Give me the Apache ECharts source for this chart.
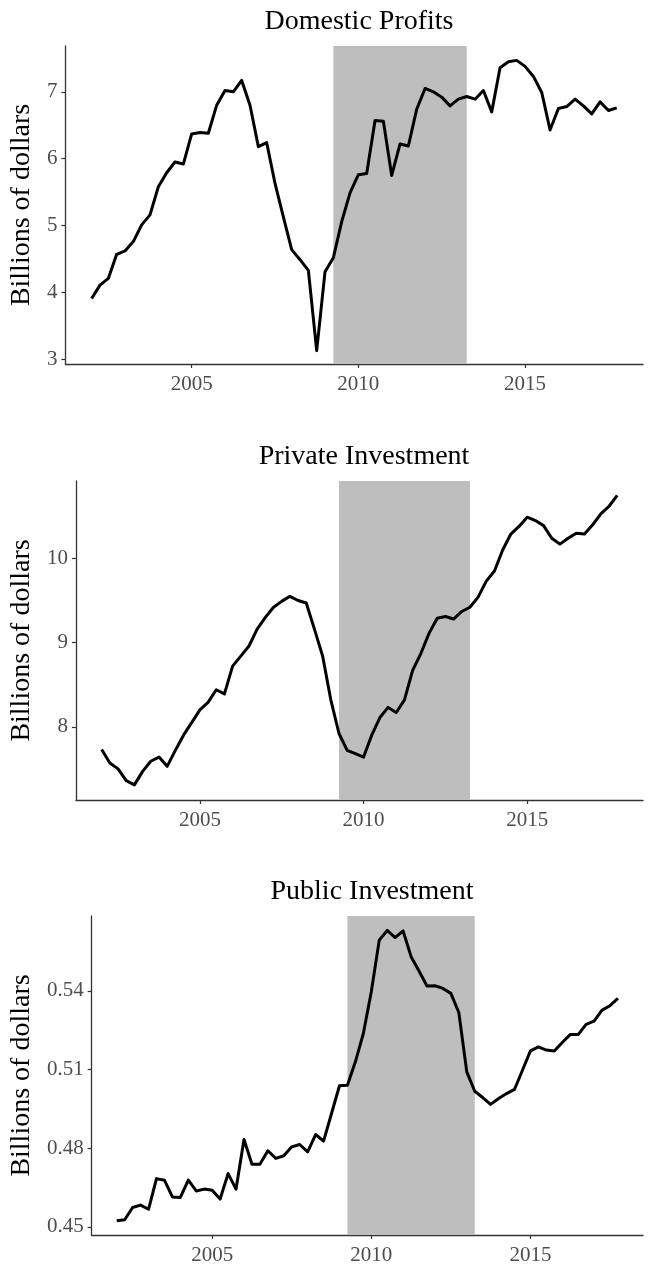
<!DOCTYPE html>
<html>
<head>
<meta charset="utf-8">
<script src="https://cdn.jsdelivr.net/npm/echarts@6/dist/echarts.min.js"></script>
<style>
html,body{margin:0;padding:0;background:#fff;}
#chart{width:649px;height:1269px;}
</style>
</head>
<body>
<div id="chart"></div>
<script>
// Quarterly observations, 2002 Q1 .. 2017 Q4 (plotted at year + quarter/4)
const startYear = 2002;
const panelTitles = ['Domestic Profits', 'Private Investment', 'Public Investment'];
const yAxisTitle = 'Billions of dollars';
const xTicks = [2005, 2010, 2015];
const shadeRange = [2009.25, 2013.25];

const domesticProfits = [
  3.91, 4.11, 4.21, 4.57, 4.62, 4.76, 5.01, 5.16,
  5.58, 5.79, 5.95, 5.92, 6.37, 6.39, 6.38, 6.80,
  7.02, 7.00, 7.17, 6.80, 6.18, 6.24, 5.63, 5.13,
  4.64, 4.49, 4.33, 3.13, 4.31, 4.52, 5.06, 5.49,
  5.76, 5.78, 6.57, 6.56, 5.75, 6.22, 6.19, 6.74,
  7.05, 7.00, 6.92, 6.79, 6.89, 6.93, 6.89, 7.02,
  6.70, 7.36, 7.45, 7.47, 7.38, 7.23, 6.99, 6.43,
  6.75, 6.78, 6.89, 6.79, 6.67, 6.85, 6.72, 6.76
];
const privateInvestment = [
  7.73, 7.57, 7.50, 7.36, 7.31, 7.47, 7.59, 7.64,
  7.53, 7.72, 7.90, 8.05, 8.20, 8.29, 8.44, 8.39,
  8.72, 8.84, 8.96, 9.16, 9.30, 9.42, 9.49, 9.55,
  9.50, 9.47, 9.16, 8.84, 8.32, 7.92, 7.72, 7.68,
  7.64, 7.90, 8.11, 8.23, 8.17, 8.32, 8.67, 8.87,
  9.11, 9.29, 9.31, 9.28, 9.37, 9.42, 9.54, 9.73,
  9.85, 10.10, 10.29, 10.38, 10.49, 10.45, 10.39, 10.24,
  10.17, 10.24, 10.30, 10.29, 10.40, 10.53, 10.62, 10.75
];
const publicInvestment = [
  0.4523, 0.4527, 0.4574, 0.4583, 0.4567, 0.4684, 0.4678, 0.4614,
  0.4612, 0.4678, 0.4637, 0.4644, 0.4640, 0.4606, 0.4703, 0.4644,
  0.4833, 0.4739, 0.4739, 0.4790, 0.4761, 0.4771, 0.4805, 0.4814,
  0.4786, 0.4852, 0.4827, 0.4932, 0.5038, 0.5040, 0.5129, 0.5237,
  0.5396, 0.5593, 0.5630, 0.5603, 0.5628, 0.5530, 0.5475, 0.5418,
  0.5419, 0.5409, 0.5390, 0.5317, 0.5091, 0.5017, 0.4993, 0.4967,
  0.4989, 0.5008, 0.5024, 0.5097, 0.5171, 0.5186, 0.5174, 0.5170,
  0.5203, 0.5233, 0.5233, 0.5272, 0.5284, 0.5326, 0.5343, 0.5371
];
const yTicks1 = [3, 4, 5, 6, 7];
const yTicks2 = [8, 9, 10];
const yTicks3 = [0.45, 0.48, 0.51, 0.54];

const quarters = domesticProfits.map((_, i) => startYear + i / 4);
const pair = arr => arr.map((v, i) => [quarters[i], v]);

const FONT = 'Liberation Serif';
const layouts = [
  {left: 65, top: 46, height: 318, titleX: 354, ymin: 2.93, ymax: 7.685, ticks: yTicks1, dec: 0, gap: 24},
  {left: 75, top: 481, height: 319, titleX: 359, ymin: 7.13, ymax: 10.92, ticks: yTicks2, dec: 0, gap: 34},
  {left: 91, top: 916, height: 319, titleX: 367, ymin: 0.4469, ymax: 0.5685, ticks: yTicks3, dec: 2, gap: 50}
];
const seriesData = [domesticProfits, privateInvestment, publicInvestment];

const chart = echarts.init(document.getElementById('chart'), null, {renderer: 'canvas'});
const option = {
  animation: false,
  backgroundColor: '#fff',
  title: layouts.map((L, k) => ({
    text: panelTitles[k],
    left: L.titleX, top: L.top - 43, textAlign: 'center',
    textStyle: {fontFamily: FONT, fontSize: 28, fontWeight: 'normal', color: '#000'}
  })),
  grid: layouts.map(L => ({left: L.left, top: L.top, right: 6, height: L.height, containLabel: false})),
  xAxis: layouts.map((L, k) => ({
    type: 'value', gridIndex: k, min: 2001.2125, max: 2018.5375,
    splitLine: {show: false},
    axisLine: {show: true, lineStyle: {color: '#333', width: 1.3}},
    axisTick: {show: true, length: 4, customValues: xTicks, lineStyle: {color: '#333', width: 1.2}},
    axisLabel: {customValues: xTicks, margin: 10, fontFamily: FONT, fontSize: 21, color: '#4d4d4d',
      formatter: v => String(v)}
  })),
  yAxis: layouts.map((L, k) => ({
    type: 'value', gridIndex: k, min: L.ymin, max: L.ymax,
    name: yAxisTitle, nameLocation: 'middle', nameRotate: 90, nameGap: L.gap,
    nameTextStyle: {fontFamily: FONT, fontSize: 28, color: '#000'},
    splitLine: {show: false},
    axisLine: {show: true, lineStyle: {color: '#333', width: 1.3}},
    axisTick: {show: true, length: 4, customValues: L.ticks, lineStyle: {color: '#333', width: 1.2}},
    axisLabel: {customValues: L.ticks, margin: 8, fontFamily: FONT, fontSize: 21, color: '#4d4d4d',
      formatter: v => Number(v).toFixed(L.dec)}
  })),
  visualMap: [{
    type: 'piecewise', show: false, dimension: 0, seriesIndex: [0, 1, 2],
    pieces: [
      {lt: shadeRange[0], color: '#000'},
      {gte: shadeRange[0], lte: shadeRange[1], color: '#3a3a3a'},
      {gt: shadeRange[1], color: '#000'}
    ]
  }],
  series: layouts.map((L, k) => ({
    type: 'line', xAxisIndex: k, yAxisIndex: k,
    data: pair(seriesData[k]),
    showSymbol: false, symbol: 'none',
    lineStyle: {width: 3, color: '#000', join: 'round'},
    markArea: {
      silent: true,
      itemStyle: {color: '#bebebe'},
      data: [[{xAxis: shadeRange[0]}, {xAxis: shadeRange[1]}]]
    },
    z: 3
  }))
};
chart.setOption(option);
</script>
</body>
</html>
